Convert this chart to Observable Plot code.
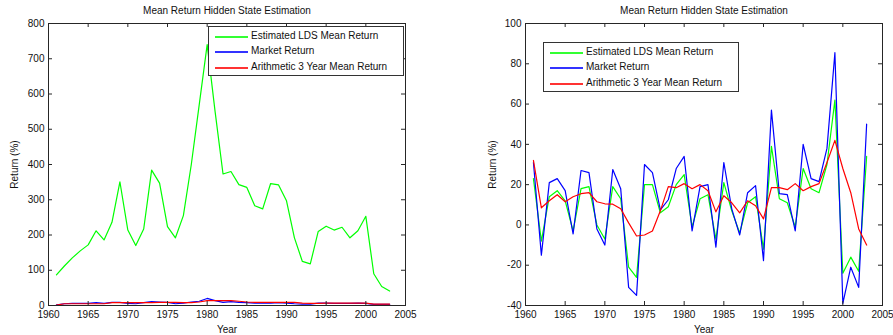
<!DOCTYPE html>
<html>
<head>
<meta charset="utf-8">
<script src="https://cdn.jsdelivr.net/npm/d3@7"></script>
<script src="https://cdn.jsdelivr.net/npm/@observablehq/plot@0.6"></script>
<style>
  body { margin: 0; background: #fff; }
  #chart { position: relative; width: 893px; height: 335px; font-family: "Liberation Sans", Arial, sans-serif; background: #fff; }
  .panel { position: absolute; top: 0; }
  .legend { position: absolute; box-sizing: border-box; width: 196px; height: 50px; background: #fff; border: 1px solid #333; font-size: 10px; color: #111; }
  .legend .row { position: absolute; left: 0; height: 12px; }
  .legend .swatch { position: absolute; left: 6px; top: 5px; width: 33px; height: 2px; opacity: 0.8; }
  .legend .lab { position: absolute; left: 42px; top: -1px; white-space: nowrap; line-height: 12px; }
</style>
</head>
<body>
<div id="chart"></div>
<script>
// Years of observation
const years = [1961, 1962, 1963, 1964, 1965, 1966, 1967, 1968, 1969, 1970,
               1971, 1972, 1973, 1974, 1975, 1976, 1977, 1978, 1979, 1980,
               1981, 1982, 1983, 1984, 1985, 1986, 1987, 1988, 1989, 1990,
               1991, 1992, 1993, 1994, 1995, 1996, 1997, 1998, 1999, 2000,
               2001, 2002, 2003];

// Left panel: LDS estimate on its own scale, market return and 3-year mean
const ldsLeft = [87, 112, 135, 155, 172, 212, 186, 236, 351, 214,
                 170, 217, 384, 347, 224, 192, 255, 400, 570, 740,
                 550, 373, 380, 343, 335, 283, 274, 346, 342, 297,
                 192, 125, 118, 210, 225, 214, 222, 192, 212, 253,
                 90, 54, 41];
const marketLeft = [2, 5, 6, 6, 6, 8, 6, 9, 9, 6,
                    5, 8, 11, 10, 9, 5, 7, 10, 12, 20,
                    14, 9, 11, 9, 8, 7, 7, 7, 8, 7,
                    5, 4, 4, 7, 7, 6, 6, 6, 7, 6,
                    3, 3, 3];
const meanLeft = [1, 5, 5, 5, 5, 5, 5, 8, 8, 8,
                  8, 8, 8, 9, 9, 9, 8, 8, 10, 14,
                  14, 14, 14, 12, 10, 9, 9, 9, 9, 9,
                  9, 7, 6, 6, 7, 7, 7, 7, 7, 7,
                  4, 4, 4];

// Right panel: annual returns (%)
const ldsRight = [23, -8, 14, 17, 12, -3, 18, 19, 0, -7,
                  19, 13, -21, -26, 20, 20, 6, 9, 20, 25,
                  -1, 13, 15, -7, 21, 7, -4, 11, 14, -12,
                  39, 13, 11, -1, 28, 18, 16, 30, 62, -24,
                  -16, -23, 34];
const marketRight = [31, -15, 21, 23, 17, -4.5, 27, 26, -2, -10,
                     27.5, 18, -31, -35, 30, 26, 7.5, 12.5, 28, 34,
                     -3, 19, 20, -11, 31, 8, -5, 16, 19.5, -17.7,
                     57, 15.5, 15, -3, 40, 23, 21.5, 38, 85.5, -39,
                     -21, -31, 50];
const meanRight = [32, 8.5, 12, 15, 11.5, 14, 15.5, 16, 11.5, 10.5,
                   10.3, 8, 1, -5.5, -5, -3, 7, 19, 18.5, 20.5,
                   18, 20, 17, 6.5, 14.5, 11, 6, 12, 9.5, 3,
                   18.5, 18.5, 17.5, 20.5, 17, 19, 20.5, 31, 42, 28,
                   16, -2, -10];

// Tick values
const xTicks = [1960, 1965, 1970, 1975, 1980, 1985, 1990, 1995, 2000, 2005];
const yTicksLeft = [0, 100, 200, 300, 400, 500, 600, 700, 800];
const yTicksRight = [-40, -20, 0, 20, 40, 60, 80, 100];

// Series names and colours
const seriesNames = ["Estimated LDS Mean Return", "Market Return", "Arithmetic 3 Year Mean Return"];
const seriesColors = ["#00ff00", "#0000ff", "#ff0000"];
const title = "Mean Return Hidden State Estimation";

const HEIGHT = 335, M_TOP = 23, M_BOTTOM = 30;
const TICK = 4; // inward tick length, px

function panel({lds, market, mean, yDomain, yTicks, width, marginLeft, marginRight, labelOffset}) {
  const rows = years.map((year, i) => ({year, lds: lds[i], market: market[i], mean: mean[i]}));
  const fmt = d => String(d);
  const axisColor = "#262626";
  const innerH = HEIGHT - M_TOP - M_BOTTOM;
  const innerW = width - marginLeft - marginRight;
  return Plot.plot({
    width,
    height: HEIGHT,
    marginTop: M_TOP,
    marginBottom: M_BOTTOM,
    marginLeft,
    marginRight,
    x: {domain: [1960, 2005]},
    y: {domain: yDomain},
    style: {fontSize: "10px", fontFamily: "'Liberation Sans', Arial, sans-serif", color: "#111", background: "#fff", overflow: "visible"},
    marks: [
      Plot.lineY(rows, {x: "year", y: "lds", stroke: seriesColors[0], strokeWidth: 1.2}),
      Plot.lineY(rows, {x: "year", y: "market", stroke: seriesColors[1], strokeWidth: 1.2}),
      Plot.lineY(rows, {x: "year", y: "mean", stroke: seriesColors[2], strokeWidth: 1.2}),
      // inward tick marks on all four sides of the box
      Plot.tickX(xTicks, {x: d => d, stroke: axisColor, insetTop: innerH - TICK}),
      Plot.tickX(xTicks, {x: d => d, stroke: axisColor, insetBottom: innerH - TICK}),
      Plot.tickY(yTicks, {y: d => d, stroke: axisColor, insetRight: innerW - TICK}),
      Plot.tickY(yTicks, {y: d => d, stroke: axisColor, insetLeft: innerW - TICK}),
      Plot.frame({stroke: axisColor}),
      // tick labels and axis titles
      Plot.axisX(xTicks, {anchor: "bottom", tickSize: 0, tickPadding: 5, tickFormat: fmt,
        label: "Year", labelAnchor: "center", labelArrow: "none"}),
      Plot.axisY(yTicks, {anchor: "left", tickSize: 0, tickPadding: 4, tickFormat: fmt,
        label: "Return (%)", labelAnchor: "center", labelArrow: "none", labelOffset}),
      Plot.text([title], {frameAnchor: "top", dy: -13, lineAnchor: "middle", text: d => d, fill: "#111"})
    ]
  });
}

function legend(left, top) {
  const box = document.createElement("div");
  box.className = "legend";
  box.style.left = left + "px";
  box.style.top = top + "px";
  seriesNames.forEach((name, i) => {
    const row = document.createElement("div");
    row.className = "row";
    row.style.top = (4 + i * 15.3) + "px";
    const sw = document.createElement("span");
    sw.className = "swatch";
    sw.style.background = seriesColors[i];
    const lab = document.createElement("span");
    lab.className = "lab";
    lab.textContent = name;
    row.append(sw, lab);
    box.append(row);
  });
  return box;
}

const chart = document.getElementById("chart");

const leftDiv = document.createElement("div");
leftDiv.className = "panel";
leftDiv.style.left = "0px";
leftDiv.append(panel({lds: ldsLeft, market: marketLeft, mean: meanLeft, yDomain: [0, 800], yTicks: yTicksLeft,
  width: 446, marginLeft: 48, marginRight: 41, labelOffset: 38}));
chart.append(leftDiv);

const rightDiv = document.createElement("div");
rightDiv.className = "panel";
rightDiv.style.left = "446px";
rightDiv.append(panel({lds: ldsRight, market: marketRight, mean: meanRight, yDomain: [-40, 100], yTicks: yTicksRight,
  width: 447, marginLeft: 79, marginRight: 11, labelOffset: 37}));
chart.append(rightDiv);

chart.append(legend(208, 26));
chart.append(legend(543, 42));
</script>
</body>
</html>
